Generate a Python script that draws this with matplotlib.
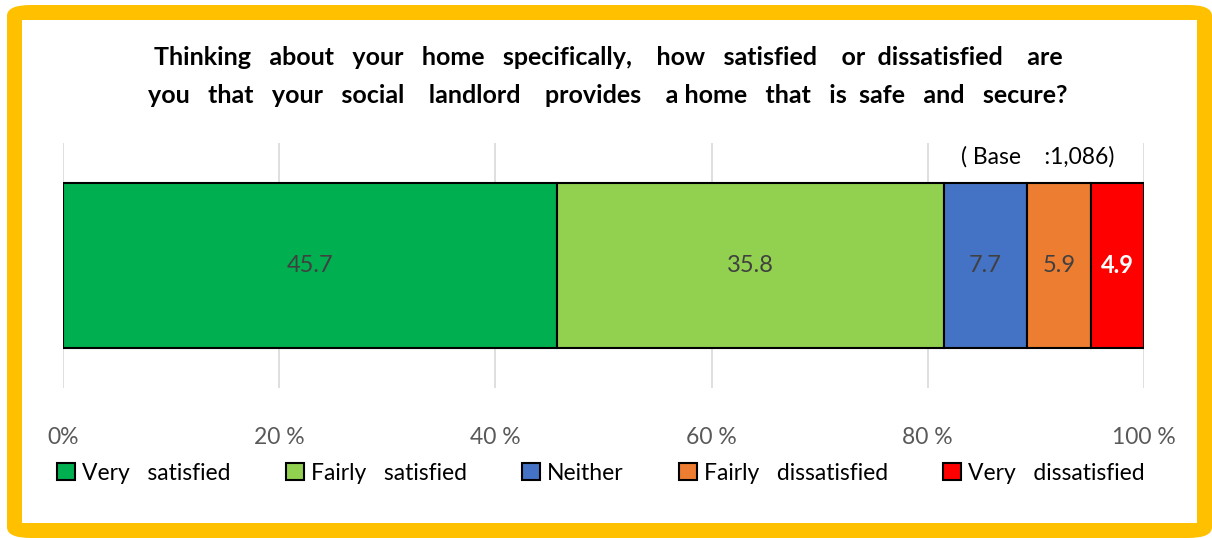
import matplotlib
matplotlib.use("Agg")
import matplotlib.pyplot as plt
from matplotlib.patches import FancyBboxPatch, Rectangle, Patch

plt.rcParams['font.family'] = ['Lato', 'DejaVu Sans']

categories = ["Very   satisfied", "Fairly   satisfied", "Neither", "Fairly   dissatisfied", "Very   dissatisfied"]
values = [45.7, 35.8, 7.7, 5.9, 4.9]
colors = ["#00B050", "#92D050", "#4472C4", "#ED7D31", "#FF0000"]
label_colors = ["#404040", "#404040", "#404040", "#404040", "white"]
label_weights = ["normal", "normal", "normal", "normal", "bold"]
tick_values = [0, 20, 40, 60, 80, 100]
tick_labels = ["0%", "20 %", "40 %", "60 %", "80 %", "100 %"]
title = ("Thinking   about   your   home   specifically,    how   satisfied    or  dissatisfied    are\n"
         "you   that   your   social    landlord    provides    a home   that   is  safe   and   secure?")
base_text = "( Base    :1,086)"

W, H = 1212, 538
fig = plt.figure(figsize=(W / 100, H / 100), dpi=100)

# yellow frame
frame = FancyBboxPatch((7 / W, 0 / H), (1212 - 7) / W, (533) / H,
                       boxstyle="round,pad=0,rounding_size=0.02",
                       transform=fig.transFigure, facecolor="#FFC000", edgecolor="none", zorder=0)
fig.patches.append(frame)
inner = Rectangle((22 / W, (H - 523) / H), (1197 - 22) / W, (523 - 20) / H,
                  transform=fig.transFigure, facecolor="white", edgecolor="none", zorder=1)
fig.patches.append(inner)

ax = fig.add_axes([63 / W, 1 - 388 / H, (1144 - 63) / W, (388 - 143) / H])
ax.set_zorder(5)
ax.set_facecolor("none")
left = 0
for v, c, lc, lw in zip(values, colors, label_colors, label_weights):
    ax.barh(0, v, left=left, height=0.673, color=c, edgecolor="black", linewidth=1.5, zorder=3)
    ax.text(left + v / 2, 0, f"{v}", ha="center", va="center", color=lc,
            fontsize=17, fontweight=lw, zorder=4)
    left += v

ax.set_xlim(0, 100)
ax.set_ylim(-0.5, 0.5)
ax.set_xticks(tick_values)
ax.set_xticklabels(tick_labels, color="#595959", fontsize=16.5)
ax.tick_params(axis="x", length=0, pad=28)
ax.set_yticks([])
for s in ax.spines.values():
    s.set_visible(False)
ax.grid(axis="x", color="#D9D9D9", linewidth=1.2, zorder=0)

fig.text(608 / W, 1 - 76.5 / H, title, ha="center", va="center", fontsize=18,
         fontweight="bold", color="black", linespacing=1.82, zorder=6)
fig.text(1038 / W, 1 - 157 / H, base_text, ha="center", va="center", fontsize=16.5, color="black", zorder=6)

handles = [Patch(facecolor=c, edgecolor="black", linewidth=1.5) for c in colors]
leg = fig.legend(handles, categories, loc="center", bbox_to_anchor=(601 / W, 1 - 473 / H),
                 ncol=5, frameon=False, fontsize=16.5, handlelength=0.8, handleheight=0.8,
                 handletextpad=0.3, columnspacing=2.4, borderaxespad=0)
leg.set_zorder(6)

fig.savefig("out.png", dpi=100)
